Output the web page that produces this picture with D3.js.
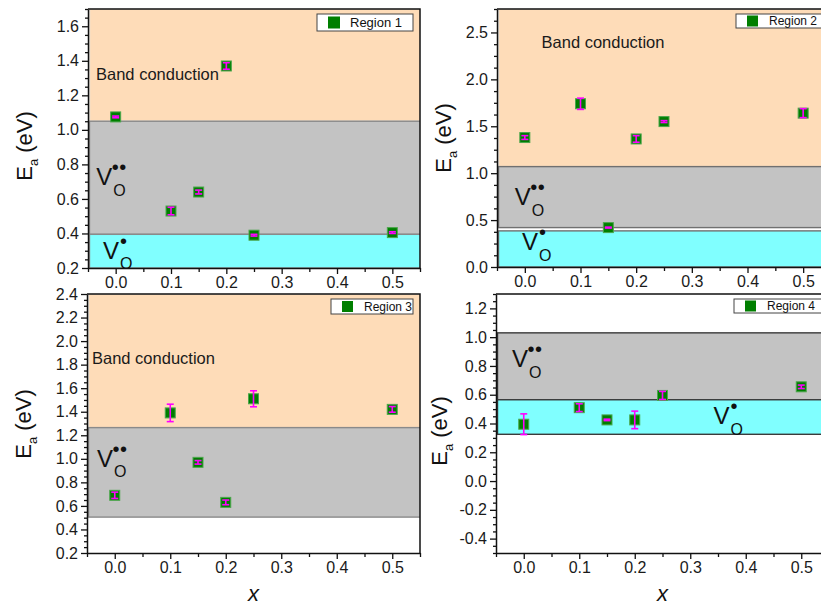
<!DOCTYPE html>
<html>
<head>
<meta charset="utf-8">
<script src="https://cdn.jsdelivr.net/npm/d3@7"></script>
<style>
  body { margin: 0; background: #fff; }
  svg { display: block; font-family: "Liberation Sans", Arial, sans-serif; }
</style>
</head>
<body>
<div id="chart"></div>
<script>
// composition x, same for all four regions
const xValues = [0, 0.1, 0.15, 0.2, 0.25, 0.5];
const xTicks = [0, 0.1, 0.2, 0.3, 0.4, 0.5];

// activation energies (eV) and error bars
const region1Ea = [1.075, 0.53, 0.64, 1.37, 0.39, 0.405];
const region1Err = [0.005, 0.022, 0.011, 0.019, 0.005, 0.005];
const region2Ea = [1.38, 1.74, 0.42, 1.365, 1.55, 1.64];
const region2Err = [0.02, 0.06, 0.005, 0.035, 0.01, 0.048];
const region3Ea = [0.69, 1.39, 0.97, 0.63, 1.51, 1.42];
const region3Err = [0.027, 0.074, 0.015, 0.02, 0.068, 0.024];
const region4Ea = [0.395, 0.51, 0.425, 0.425, 0.595, 0.655];
const region4Err = [0.072, 0.027, 0.005, 0.061, 0.028, 0.012];

// y tick labels
const region1Ticks = [0.2, 0.4, 0.6, 0.8, 1.0, 1.2, 1.4, 1.6];
const region2Ticks = [0, 0.5, 1.0, 1.5, 2.0, 2.5];
const region3Ticks = [0.2, 0.4, 0.6, 0.8, 1.0, 1.2, 1.4, 1.6, 1.8, 2.0, 2.2, 2.4];
const region4Ticks = [-0.4, -0.2, 0, 0.2, 0.4, 0.6, 0.8, 1.0, 1.2];

// shaded mechanism bands [low, high] in eV
const region1Bands = [["band", 1.05, 1.7], ["vo2", 0.395, 1.05], ["vo1", 0.2, 0.395]];
const region2Bands = [["band", 1.07, 2.75], ["vo2", 0.42, 1.07], ["vo1", 0, 0.385]];
const region3Bands = [["band", 1.265, 2.4], ["vo2", 0.505, 1.265]];
const region4Bands = [["vo2", 0.565, 1.03], ["vo1", 0.325, 0.565]];

// text labels [kind, x, Ea]
const region1Labels = [["Band conduction", -0.0355, 1.29], ["vo2", -0.035, 0.68], ["vo1", -0.023, 0.255]];
const region2Labels = [["Band conduction", 0.03, 2.33], ["vo2", -0.018, 0.656], ["vo1", -0.005, 0.178]];
const region3Labels = [["Band conduction", -0.041, 1.808], ["vo2", -0.032, 0.933]];
const region4Labels = [["vo2", -0.021, 0.792], ["vo1", 0.342, 0.395]];

const bandFill = {band: "#fedcb8", vo2: "#c3c3c3", vo1: "#80ffff"};

const panels = [
	{name: "Region 1", ea: region1Ea, err: region1Err, ticks: region1Ticks, minorStep: 0.1, yDomain: [0.2, 1.7],
		bands: region1Bands, labels: region1Labels, box: {l: 88, r: 420, t: 9, b: 268},
		bandStroke: "#8a8a8a", legend: {w: 96, h: 17, sq: 12, font: 13}, yLab: {x: 32, y: 146}, xLab: false},
	{name: "Region 2", ea: region2Ea, err: region2Err, ticks: region2Ticks, minorStep: 0.25, yDomain: [0, 2.75],
		bands: region2Bands, labels: region2Labels, box: {l: 497, r: 831, t: 9, b: 267},
		bandStroke: "#707070", legend: {w: 88, h: 14, sq: 11, font: 12}, yLab: {x: 451, y: 138}, xLab: false},
	{name: "Region 3", ea: region3Ea, err: region3Err, ticks: region3Ticks, minorStep: 0.1, yDomain: [0.2, 2.4],
		bands: region3Bands, labels: region3Labels, box: {l: 87, r: 420, t: 294, b: 553},
		bandStroke: "#8a8a8a", legend: {w: 82, h: 15, sq: 11, font: 12}, yLab: {x: 31, y: 424}, xLab: true},
	{name: "Region 4", ea: region4Ea, err: region4Err, ticks: region4Ticks, minorStep: 0.1, yDomain: [-0.5, 1.3],
		bands: region4Bands, labels: region4Labels, box: {l: 496, r: 829, t: 294, b: 553},
		bandStroke: "#3a3a3a", legend: {w: 88, h: 14, sq: 11, font: 12}, yLab: {x: 447, y: 431}, xLab: true}
];

const svg = d3.select("#chart").append("svg").attr("width", 821).attr("height", 607);
const defs = svg.append("defs");
const fmt = d => d.toFixed(1);

panels.forEach((p, i) => {
	const g = svg.append("g");
	const x = d3.scaleLinear().domain([-0.05, 0.55]).range([p.box.l, p.box.r]);
	const y = d3.scaleLinear().domain(p.yDomain).range([p.box.b, p.box.t]);

	defs.append("clipPath").attr("id", "clip" + i).append("rect")
		.attr("x", p.box.l).attr("y", p.box.t)
		.attr("width", p.box.r - p.box.l).attr("height", p.box.b - p.box.t);
	const plot = g.append("g").attr("clip-path", "url(#clip" + i + ")");

	// bands
	p.bands.forEach(b => {
		plot.append("rect")
			.attr("x", p.box.l + 1.5).attr("width", p.box.r - p.box.l + 10)
			.attr("y", y(b[2])).attr("height", y(b[1]) - y(b[2]))
			.attr("fill", bandFill[b[0]])
			.attr("stroke", b[0] == "band" ? "#e6e0d8" : p.bandStroke)
			.attr("stroke-width", 1.4);
	});

	// labels
	p.labels.forEach(l => {
		const px = x(l[1]), py = y(l[2]);
		if (l[0] == "Band conduction") {
			plot.append("text").attr("x", px).attr("y", py)
				.attr("font-size", 16.5).attr("fill", "#1a1a1a").text(l[0]);
			return;
		}
		const t = plot.append("text").attr("fill", "#111");
		t.append("tspan").attr("x", px).attr("y", py).attr("font-size", 24).text("V");
		const dots = l[0] == "vo2" ? "\u2022\u2022" : "\u2022";
		t.append("tspan").attr("x", px + (l[0] == "vo2" ? 15.5 : 17)).attr("y", py - 11)
			.attr("font-size", 20).attr("letter-spacing", 0.5).text(dots);
		t.append("tspan").attr("x", px + 17).attr("y", py + 10.5).attr("font-size", 16).text("O");
	});

	// markers + error bars
	const pts = xValues.map((xv, k) => ({x: xv, y: p.ea[k], e: p.err[k]}));
	plot.selectAll(".pt").data(pts).join("rect")
		.attr("x", d => x(d.x) - 5).attr("y", d => y(d.y) - 5)
		.attr("width", 10).attr("height", 10)
		.attr("fill", "#007f00").attr("stroke", "#4ca64c").attr("stroke-width", 1);
	const eb = plot.selectAll(".eb").data(pts).join("g").attr("stroke", "#ff00ff").attr("stroke-width", 1.6);
	eb.append("line").attr("x1", d => x(d.x)).attr("x2", d => x(d.x))
		.attr("y1", d => y(d.y - d.e)).attr("y2", d => y(d.y + d.e));
	eb.append("line").attr("x1", d => x(d.x) - 3.5).attr("x2", d => x(d.x) + 3.5)
		.attr("y1", d => y(d.y - d.e)).attr("y2", d => y(d.y - d.e));
	eb.append("line").attr("x1", d => x(d.x) - 3.5).attr("x2", d => x(d.x) + 3.5)
		.attr("y1", d => y(d.y + d.e)).attr("y2", d => y(d.y + d.e));

	// legend
	const lg = p.legend;
	const lx = p.box.r - 7 - lg.w, ly = p.box.t + 5;
	g.append("rect").attr("x", lx).attr("y", ly).attr("width", lg.w).attr("height", lg.h)
		.attr("fill", "#fff").attr("stroke", "#444").attr("stroke-width", 1);
	g.append("rect").attr("x", lx + 11).attr("y", ly + (lg.h - lg.sq) / 2)
		.attr("width", lg.sq).attr("height", lg.sq).attr("fill", "#007f00");
	g.append("text").attr("x", lx + 33).attr("y", ly + lg.h / 2 + lg.font * 0.36)
		.attr("font-size", lg.font).attr("fill", "#111").text(p.name);

	// axes
	const minorY = d3.range(p.yDomain[0], p.yDomain[1] + 1e-9, p.minorStep / 2)
		.map(v => +v.toFixed(3)).filter(v => !p.ticks.some(t => Math.abs(t - v) < 1e-6));
	const minorX = d3.range(-0.05, 0.5501, 0.1).map(v => +v.toFixed(3));

	g.append("g").attr("transform", `translate(${p.box.l},0)`)
		.call(d3.axisLeft(y).tickValues(p.ticks).tickFormat(fmt).tickSize(6).tickSizeOuter(0));
	g.append("g").attr("transform", `translate(${p.box.l},0)`)
		.call(d3.axisLeft(y).tickValues(minorY).tickFormat("").tickSize(3).tickSizeOuter(0))
		.select(".domain").remove();
	g.append("g").attr("transform", `translate(0,${p.box.b})`)
		.call(d3.axisBottom(x).tickValues(xTicks).tickFormat(fmt).tickSize(6).tickSizeOuter(0));
	g.append("g").attr("transform", `translate(0,${p.box.b})`)
		.call(d3.axisBottom(x).tickValues(minorX).tickFormat("").tickSize(4).tickSizeOuter(0))
		.select(".domain").remove();

	g.selectAll(".tick text").attr("font-size", 16).attr("fill", "#1a1a1a")
		.attr("font-family", "'Liberation Sans', Arial, sans-serif");
	g.selectAll(".tick line").attr("stroke", "#111").attr("stroke-width", 1.3);
	g.selectAll(".domain").attr("stroke", "#111").attr("stroke-width", 1.5);

	// frame top + right
	g.append("path")
		.attr("d", `M${p.box.l},${p.box.t}H${p.box.r}V${p.box.b}`)
		.attr("fill", "none").attr("stroke", "#111").attr("stroke-width", 1.5);

	// axis titles
	const yt = g.append("text").attr("transform", `translate(${p.yLab.x},${p.yLab.y}) rotate(-90)`)
		.attr("text-anchor", "middle").attr("font-size", 22).attr("fill", "#111");
	yt.append("tspan").text("E");
	yt.append("tspan").attr("font-size", 13).attr("dy", 6).text("a");
	yt.append("tspan").attr("dy", -6).text(" (eV)");

	if (p.xLab) {
		g.append("text").attr("x", (p.box.l + p.box.r) / 2).attr("y", 601)
			.attr("text-anchor", "middle").attr("font-size", 22).attr("font-style", "italic")
			.attr("fill", "#111").text("x");
	}
});
</script>
</body>
</html>
